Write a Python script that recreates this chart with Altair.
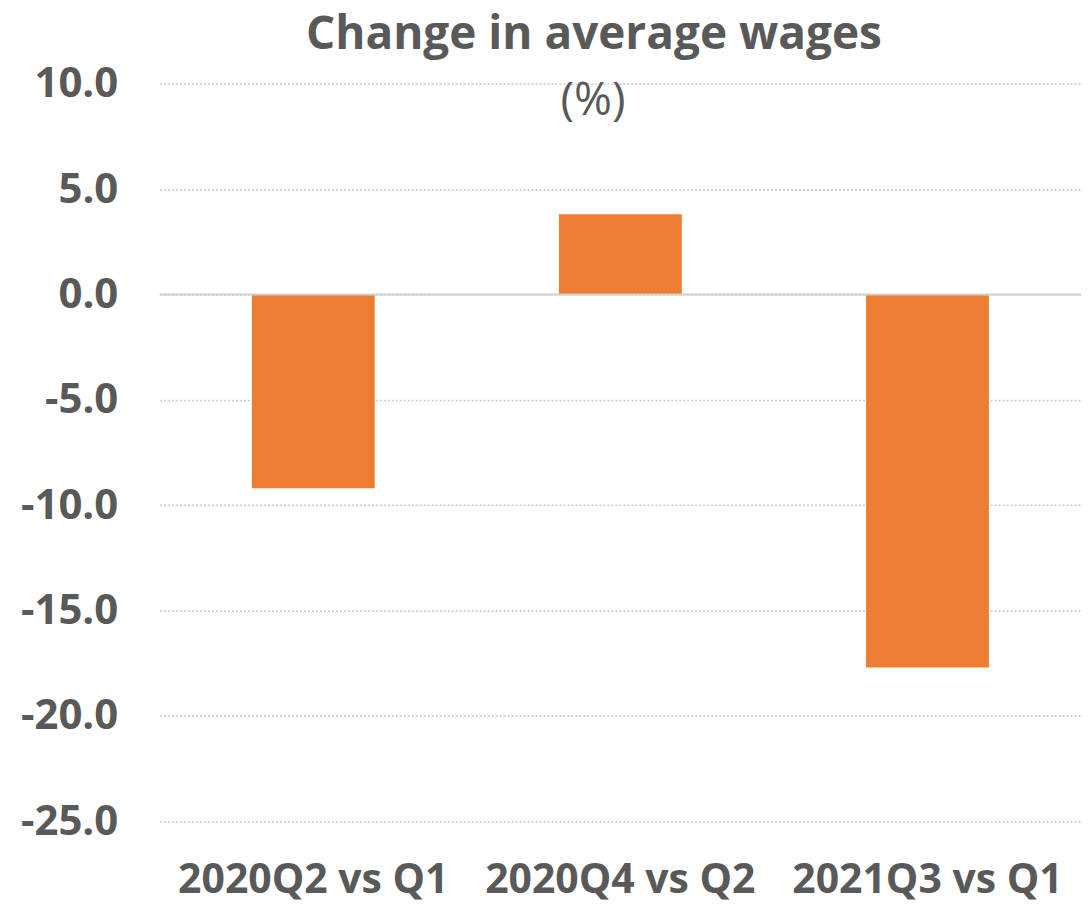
import altair as alt
import pandas as pd

categories = ["2020Q2 vs Q1", "2020Q4 vs Q2", "2021Q3 vs Q1"]
values = [-9.2, 3.8, -17.7]
title_text = ["Change in average wages"]
subtitle_text = ["(%)"]
y_ticks = [-25, -20, -15, -10, -5, 0, 5, 10]

df = pd.DataFrame({"cat": categories, "val": values})
W, H = 923, 739
GREY = "#595959"
FONT = "Open Sans"

base = alt.Chart(df)

bars = base.mark_bar(color="#ED7D31", width=alt.RelativeBandSize(0.4)).encode(
    x=alt.X("cat:N", sort=categories, title=None,
            scale=alt.Scale(paddingInner=0, paddingOuter=0),
            axis=alt.Axis(labelAngle=0, labelFontSize=41, labelFont=FONT,
                          labelFontWeight="bold", labelColor=GREY, labelLimit=0,
                          labelPadding=39, domain=False, ticks=False, grid=False)),
    y=alt.Y("val:Q", title=None,
            scale=alt.Scale(domain=[-25, 10], nice=False),
            axis=alt.Axis(values=y_ticks, labelFontSize=42, labelFont=FONT,
                          labelFontWeight="bold", labelColor=GREY,
                          labelExpr="replace(format(datum.value, '.1f'), '\u2212', '-')",
                          labelPadding=42, domain=False, ticks=False,
                          grid=True, gridColor="#CFCFCF", gridDash=[2, 2],
                          gridWidth=1.8)),
)

zero = alt.Chart(pd.DataFrame({"z": [0]})).mark_rule(color="#D0D0D0", strokeWidth=2).encode(
    y="z:Q"
)

title = alt.Chart(pd.DataFrame({"t": title_text})).mark_text(
    font=FONT, fontSize=46, fontWeight="bold", color=GREY, baseline="alphabetic", align="center"
).encode(text="t:N", x=alt.value(435), y=alt.value(-35))

subtitle = alt.Chart(pd.DataFrame({"t": subtitle_text})).mark_text(
    font=FONT, fontSize=46, color=GREY, baseline="alphabetic", align="center"
).encode(text="t:N", x=alt.value(434), y=alt.value(31))

chart = alt.layer(bars, zero, title, subtitle).properties(
    width=W, height=H,
    autosize=alt.AutoSizeParams(type="none"),
    padding={"left": 152, "top": 75, "right": 0, "bottom": 84},
).configure_view(stroke=None)

chart.save("out.html", embed_options={"renderer": "svg", "actions": False})
